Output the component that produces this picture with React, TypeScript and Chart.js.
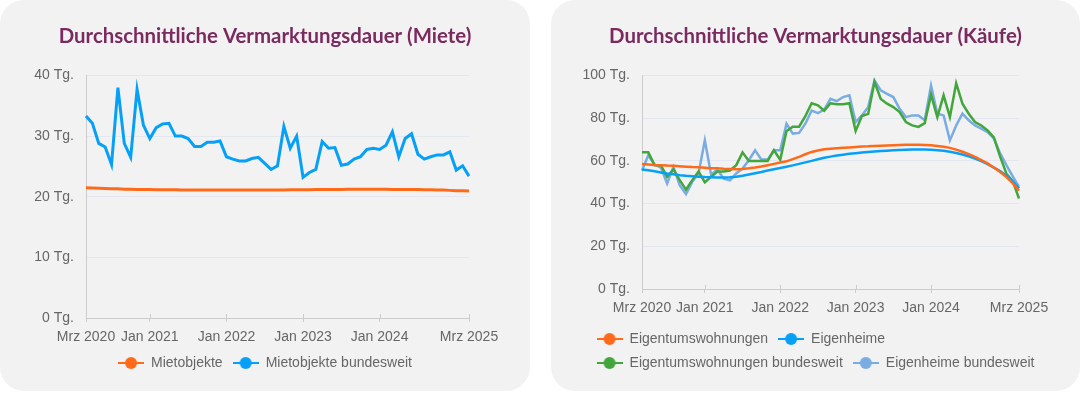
import React, { useEffect, useRef } from 'react';
import { Chart, registerables } from 'chart.js';

Chart.register(...registerables);

// ---------- data ----------
const months = [
  'Mrz 2020', 'Apr 2020', 'Mai 2020', 'Jun 2020', 'Jul 2020', 'Aug 2020', 'Sep 2020', 'Okt 2020', 'Nov 2020', 'Dez 2020',
  'Jan 2021', 'Feb 2021', 'Mrz 2021', 'Apr 2021', 'Mai 2021', 'Jun 2021', 'Jul 2021', 'Aug 2021', 'Sep 2021', 'Okt 2021', 'Nov 2021', 'Dez 2021',
  'Jan 2022', 'Feb 2022', 'Mrz 2022', 'Apr 2022', 'Mai 2022', 'Jun 2022', 'Jul 2022', 'Aug 2022', 'Sep 2022', 'Okt 2022', 'Nov 2022', 'Dez 2022',
  'Jan 2023', 'Feb 2023', 'Mrz 2023', 'Apr 2023', 'Mai 2023', 'Jun 2023', 'Jul 2023', 'Aug 2023', 'Sep 2023', 'Okt 2023', 'Nov 2023', 'Dez 2023',
  'Jan 2024', 'Feb 2024', 'Mrz 2024', 'Apr 2024', 'Mai 2024', 'Jun 2024', 'Jul 2024', 'Aug 2024', 'Sep 2024', 'Okt 2024', 'Nov 2024', 'Dez 2024',
  'Jan 2025', 'Feb 2025', 'Mrz 2025',
];

const shownTicks = ['Mrz 2020', 'Jan 2021', 'Jan 2022', 'Jan 2023', 'Jan 2024', 'Mrz 2025'];

const mietobjekte = [
  21.5, 21.45, 21.4, 21.35, 21.3, 21.3, 21.25, 21.25, 21.2, 21.2,
  21.2, 21.15, 21.15, 21.15, 21.15, 21.1, 21.1, 21.1, 21.1, 21.1,
  21.1, 21.1, 21.1, 21.1, 21.1, 21.1, 21.1, 21.1, 21.1, 21.1,
  21.1, 21.1, 21.15, 21.15, 21.15, 21.15, 21.2, 21.2, 21.2, 21.2,
  21.2, 21.25, 21.25, 21.25, 21.25, 21.25, 21.25, 21.25, 21.2, 21.2,
  21.2, 21.2, 21.2, 21.15, 21.15, 21.1, 21.1, 21.05, 21.0, 21.0, 20.95,
];

const mietobjekteBundesweit = [
  33.3, 32.1, 28.8, 28.2, 25.3, 38.0, 28.8, 26.5, 37.7, 31.8,
  29.6, 31.4, 32.0, 32.1, 30.0, 30.0, 29.6, 28.3, 28.3, 29.0,
  29.0, 29.2, 26.6, 26.2, 25.9, 25.9, 26.3, 26.5, 25.5, 24.5,
  25.1, 31.6, 28.0, 30.0, 23.2, 24.0, 24.5, 29.1, 28.0, 28.1,
  25.2, 25.4, 26.2, 26.6, 27.8, 28.0, 27.8, 28.5, 30.7, 26.6,
  29.6, 30.4, 27.0, 26.2, 26.6, 26.9, 26.9, 27.4, 24.4, 25.1, 23.4,
];

const eigentumswohnungen = [
  58.5, 58.3, 58.1, 58.0, 57.8, 57.7, 57.5, 57.3, 57.1, 57.0,
  56.8, 56.6, 56.5, 56.3, 56.2, 56.1, 56.2, 56.5, 56.9, 57.4,
  58.0, 58.6, 59.2, 59.8, 60.8, 61.9, 63.1, 64.2, 64.9, 65.4,
  65.7, 65.9, 66.1, 66.3, 66.5, 66.7, 66.8, 67.0, 67.1, 67.2,
  67.3, 67.4, 67.5, 67.5, 67.5, 67.4, 67.3, 67.0, 66.6, 66.1,
  65.3, 64.3, 63.2, 61.9, 60.4, 58.8, 56.9, 54.8, 52.4, 49.6, 46.0,
];

const eigenheime = [
  56.0, 55.6, 55.1, 54.6, 54.1, 53.7, 53.3, 53.0, 52.8, 52.6,
  52.4, 52.3, 52.2, 52.2, 52.3, 52.6, 53.0, 53.6, 54.2, 54.8,
  55.5, 56.1, 56.7, 57.3, 57.9, 58.6, 59.3, 60.0, 60.8, 61.5,
  62.0, 62.5, 62.9, 63.3, 63.6, 63.9, 64.2, 64.4, 64.6, 64.8,
  65.0, 65.1, 65.2, 65.3, 65.3, 65.3, 65.2, 65.0, 64.7, 64.3,
  63.7, 63.0, 62.1, 61.1, 59.9, 58.5, 56.8, 55.2, 53.0, 50.5, 47.0,
];

const eigentumswohnungenBundesweit = [
  64, 64, 58, 58, 52.5, 56, 51, 46.5, 51, 55,
  50, 52.5, 55, 55, 55.5, 58, 64, 60, 60, 60,
  60, 65, 60.5, 74, 76, 76, 81, 87, 86, 83.5,
  87, 86.5, 86.5, 87, 74, 81, 82, 97, 89, 86.8,
  85.2, 82.9, 78.2, 76.6, 75.9, 77.7, 91, 80.5, 90.7, 80.5,
  96.4, 86.8, 82.1, 78.2, 76.6, 74.3, 71, 62, 54, 50.5, 42.4,
];

const eigenheimeBundesweit = [
  55.5, 62.6, 58.3, 56.9, 49.4, 57.2, 48.6, 44.4, 50.2, 54.1,
  69.6, 53.5, 56, 51.7, 50.9, 54.1, 56.4, 60.3, 65, 60.6,
  60.6, 65, 65, 77.4, 72.8, 73.1, 77.4, 83.6, 82.4, 84,
  89.1, 88, 89.9, 90.7, 78.2, 81.3, 85.2, 97.7, 93, 91.4,
  89.9, 84.4, 80.5, 81.3, 81.3, 79, 95.3, 82.1, 81.3, 69.6,
  76.6, 82.1, 79, 76.6, 75.1, 73.5, 70.5, 63.5, 58, 52.8, 47.8,
];

// ---------- styles ----------
const ORANGE = '#ff6a1a';
const BLUE = '#06a0f7';
const GREEN = '#42a63c';
const LIGHTBLUE = '#78ace2';
const TITLE_COLOR = '#7b2a5f';
const TEXT = '#666666';
const GRID = '#e4e7ef';
const AXIS = '#cccccc';
const FONT = "'Liberation Sans', Arial, sans-serif";

function makeMarker(color: string) {
  const c = document.createElement('canvas');
  c.width = 26;
  c.height = 14;
  const ctx = c.getContext('2d')!;
  ctx.strokeStyle = color;
  ctx.lineWidth = 2;
  ctx.beginPath();
  ctx.moveTo(0, 7);
  ctx.lineTo(26, 7);
  ctx.stroke();
  ctx.fillStyle = color;
  ctx.beginPath();
  ctx.arc(13, 7, 6, 0, Math.PI * 2);
  ctx.fill();
  return c;
}

const equalRows = {
  id: 'equalRows',
  afterLayout(chart: any) {
    const lg = chart.legend;
    if (lg && lg.lineWidths && lg.lineWidths.length > 1) {
      const m = Math.max(...lg.lineWidths);
      lg.lineWidths = lg.lineWidths.map(() => m);
    }
  },
};

const tickMarks = {
  id: 'tickMarks',
  afterDatasetsDraw(chart: any) {
    const x = chart.scales.x;
    const ctx = chart.ctx;
    ctx.save();
    ctx.strokeStyle = AXIS;
    ctx.lineWidth = 1;
    x.ticks.forEach((t: any, i: number) => {
      if (t.label == null || t.label === '') return;
      const px = Math.round(x.getPixelForTick(i)) + 0.5;
      ctx.beginPath();
      ctx.moveTo(px, x.top - 4);
      ctx.lineTo(px, x.top);
      ctx.stroke();
    });
    ctx.restore();
  },
};

function buildConfig(
  title: string,
  datasets: { label: string; data: number[]; color: string }[],
  yMax: number,
  yStep: number,
  yWidth: number,
  lineWidth: number,
  xHeight: number,
) {
  const markers = datasets.map((d) => makeMarker(d.color));
  return {
    type: 'line',
    data: {
      labels: months,
      datasets: datasets.map((d) => ({
        label: d.label,
        data: d.data,
        borderColor: d.color,
        backgroundColor: d.color,
        borderWidth: lineWidth,
        pointRadius: 0,
        tension: 0,
        fill: false,
        yAxisID: 'y',
      })),
    },
    options: {
      responsive: false,
      animation: false,
      devicePixelRatio: 1,
      layout: { padding: { left: 0, right: 0, top: 0, bottom: 11 } },
      plugins: {
        tooltip: { enabled: false },
        title: {
          display: true,
          text: title,
          color: TITLE_COLOR,
          font: { family: "Lato, 'Liberation Sans', sans-serif", size: 20.4, weight: 'bold', lineHeight: 1.2 },
          padding: { top: 24, bottom: 27 },
        },
        legend: {
          display: true,
          position: 'bottom',
          labels: {
            usePointStyle: true,
            pointStyleWidth: 26,
            color: TEXT,
            padding: 10,
            font: { family: FONT, size: 14 },
            generateLabels: (chart: any) =>
              Chart.defaults.plugins.legend.labels
                .generateLabels(chart)
                .map((l: any, i: number) => ({ ...l, pointStyle: markers[i] })),
          },
        },
      },
      scales: {
        x: {
          type: 'category',
          offset: false,
          grid: {
            display: true,
            drawOnChartArea: false,
            drawTicks: true,
            tickLength: 4,
            color: AXIS,
          },
          border: { display: true, color: AXIS },
          ticks: {
            autoSkip: false,
            maxRotation: 0,
            minRotation: 0,
            padding: 7,
            color: TEXT,
            font: { family: FONT, size: 14 },
            callback: function (this: any, value: any, index: number) {
              const lbl = months[index];
              return shownTicks.includes(lbl) ? lbl : null;
            },
          },
          afterFit: (s: any) => {
            s.height = xHeight;
          },
        },
        y: {
          position: 'left',
          min: 0,
          max: yMax,
          grid: { color: GRID, drawTicks: false },
          border: { display: true, color: AXIS },
          ticks: {
            stepSize: yStep,
            padding: 12,
            color: TEXT,
            font: { family: FONT, size: 14 },
            callback: (v: any) => v + ' Tg.',
          },
          afterFit: (s: any) => {
            s.width = yWidth;
          },
        },
        spacer: {
          type: 'linear',
          position: 'right',
          display: true,
          min: 0,
          max: 1,
          grid: { display: false, drawTicks: false },
          border: { display: false },
          ticks: { display: false },
          afterFit: (s: any) => {
            s.width = 61;
          },
        },
      },
    },
    plugins: [equalRows, tickMarks],
  };
}

function Panel({ left, width, build }: { left: number; width: number; build: () => any }) {
  const ref = useRef<HTMLCanvasElement | null>(null);
  useEffect(() => {
    if (!ref.current) return;
    const chart = new Chart(ref.current, build());
    return () => chart.destroy();
  }, []);
  return (
    <div
      style={{
        position: 'absolute',
        left,
        top: 0,
        width,
        height: 391,
        background: '#f2f2f2',
        borderRadius: 24,
        overflow: 'hidden',
      }}
    >
      <canvas ref={ref} width={width} height={391} style={{ display: 'block' }} />
    </div>
  );
}

export default function App() {
  return (
    <div style={{ position: 'absolute', left: 0, top: 0, width: 1080, height: 396, background: '#ffffff' }}>
      <Panel
        left={0}
        width={530}
        build={() =>
          buildConfig(
            'Durchschnittliche Vermarktungsdauer (Miete)',
            [
              { label: 'Mietobjekte', data: mietobjekte, color: ORANGE },
              { label: 'Mietobjekte bundesweit', data: mietobjekteBundesweit, color: BLUE },
            ],
            40,
            10,
            86,
            3,
            28,
          )
        }
      />
      <Panel
        left={551}
        width={529}
        build={() =>
          buildConfig(
            'Durchschnittliche Vermarktungsdauer (Käufe)',
            [
              { label: 'Eigentumswohnungen', data: eigentumswohnungen, color: ORANGE },
              { label: 'Eigenheime', data: eigenheime, color: BLUE },
              { label: 'Eigentumswohnungen bundesweit', data: eigentumswohnungenBundesweit, color: GREEN },
              { label: 'Eigenheime bundesweit', data: eigenheimeBundesweit, color: LIGHTBLUE },
            ],
            100,
            20,
            91,
            2.5,
            33,
          )
        }
      />
    </div>
  );
}
